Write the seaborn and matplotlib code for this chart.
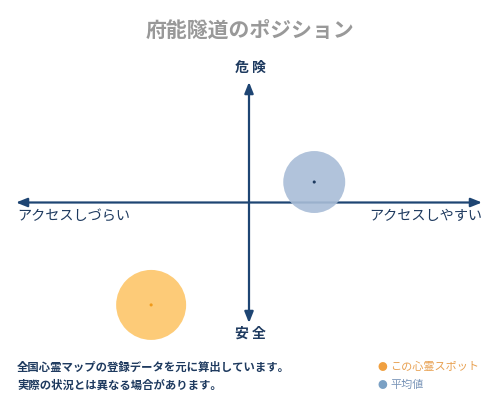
"""
Position chart (quadrant) for a single spot vs. the average.
"""

import matplotlib
matplotlib.use('Agg')
import matplotlib.pyplot as plt
import seaborn as sns
import pandas as pd

# data: x = access (easy +), y = danger (danger +)
names = ['この心霊スポット', '平均値']
access = [-42, 28]
danger = [-85, 17]
bubble = [2540, 1990]

title = '府能隧道のポジション'
label_top = '危 険'
label_bottom = '安 全'
label_left = 'アクセスしづらい'
label_right = 'アクセスしやすい'
note_lines = ['全国心霊マップの登録データを元に算出しています。',
              '実際の状況とは異なる場合があります。']

axis_col = '#1e4573'
circle_cols = ['#fdc669', '#a9bdd7']
dot_cols = ['#f09a1a', '#1e3a5f']
text_col = '#1e3a5f'

sns.set_theme(style='white')
plt.rcParams['font.family'] = ['Noto Sans CJK JP', 'DejaVu Sans']

df = pd.DataFrame({'name': names, 'access': access, 'danger': danger, 'size': bubble})

fig = plt.figure(figsize=(5, 4), dpi=100)
ax = fig.add_axes([16 / 500, 1 - 323 / 400, 466 / 500, 241 / 400])
ax.set_xlim(-100, 100)
ax.set_ylim(-100, 100)
ax.axis('off')

# axes with arrows
arrow = dict(arrowstyle='-|>,head_length=0.55,head_width=0.22', color=axis_col, lw=1.6, shrinkA=0, shrinkB=0)
ax.annotate('', xy=(100, 0), xytext=(0, 0), arrowprops=arrow)
ax.annotate('', xy=(-100, 0), xytext=(0, 0), arrowprops=arrow)
ax.annotate('', xy=(0, 100), xytext=(0, 0), arrowprops=arrow)
ax.annotate('', xy=(0, -100), xytext=(0, 0), arrowprops=arrow)

# bubbles
for i in range(len(df)):
    sub = df.iloc[[i]]
    sns.scatterplot(data=sub, x='access', y='danger', s=sub['size'].iloc[0], color=circle_cols[i],
                    alpha=0.9, edgecolor='none', ax=ax, legend=False, zorder=3, clip_on=False)
    sns.scatterplot(data=sub, x='access', y='danger', s=5, color=dot_cols[i],
                    edgecolor='none', ax=ax, legend=False, zorder=4, clip_on=False)

# texts
fig.text(0.5, 1 - 30 / 400, title, ha='center', va='center', fontsize=15, color='#999999', fontweight='bold')
fig.text(0.5, 1 - 68 / 400, label_top, ha='center', va='center', fontsize=10, color=text_col, fontweight='bold')
fig.text(0.5, 1 - 334 / 400, label_bottom, ha='center', va='center', fontsize=10, color=text_col, fontweight='bold')
fig.text(17 / 500, 1 - 216 / 400, label_left, ha='left', va='center', fontsize=10.2, color=text_col)
fig.text(482 / 500, 1 - 216 / 400, label_right, ha='right', va='center', fontsize=10.2, color=text_col)

fig.text(17 / 500, 1 - 367 / 400, note_lines[0], ha='left', va='center', fontsize=8.2, color=text_col, fontweight='bold')
fig.text(17 / 500, 1 - 385 / 400, note_lines[1], ha='left', va='center', fontsize=8.2, color=text_col, fontweight='bold')

fig.text(378 / 500, 1 - 367 / 400, '●', ha='left', va='center', fontsize=7, color='#f0a040')
fig.text(390 / 500, 1 - 367 / 400, names[0], ha='left', va='center', fontsize=8, color='#e8a050')
fig.text(378 / 500, 1 - 385 / 400, '●', ha='left', va='center', fontsize=7, color='#7aa0c4')
fig.text(390 / 500, 1 - 385 / 400, names[1], ha='left', va='center', fontsize=8, color='#7a95b8')

fig.savefig('out.png', dpi=100, facecolor='white')
